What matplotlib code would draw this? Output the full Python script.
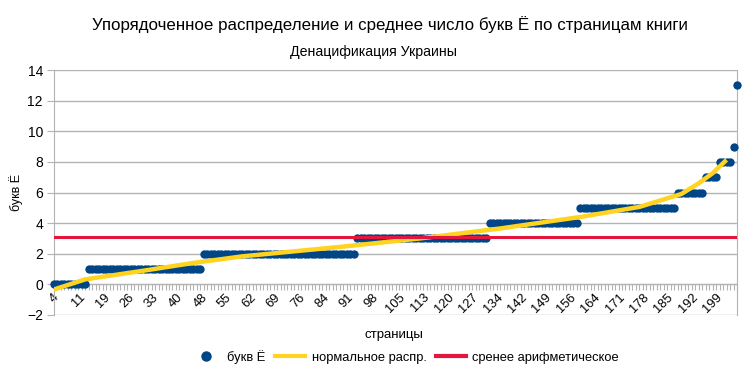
import numpy as np
import matplotlib
matplotlib.use("Agg")
import matplotlib.pyplot as plt
from matplotlib.lines import Line2D

plt.rcParams['font.family'] = ['Liberation Sans', 'DejaVu Sans']

# ---- data ----
levels = [0, 1, 2, 3, 4, 5, 6, 7, 8, 9, 13]
level_counts = [10, 33, 44, 38, 26, 28, 8, 4, 4, 1, 1]
page_labels = [4, 11, 19, 26, 33, 40, 48, 55, 62, 69, 76, 84, 91, 98, 105,
               113, 120, 127, 134, 142, 149, 156, 164, 171, 178, 185, 192, 199]
normal_idx = [0, 9, 25, 40, 54, 84, 105, 128, 151, 168, 180, 185, 189, 193]
normal_val = [-0.33, 0.33, 0.87, 1.4, 1.83, 2.49, 3.0, 3.65, 4.4, 5.06, 5.9, 6.6, 7.26, 8.13]

letters = np.repeat(levels, level_counts)
n = len(letters)
idx = np.arange(n)
mean_val = letters.mean()

blue = '#004586'
yellow = '#ffd320'
red = '#e3173e'
grid = '#b3b3b3'

fig = plt.figure(figsize=(7.53, 3.75), dpi=100)
ax = fig.add_axes([54/753, 1-315/375, (737-54)/753, (315-70)/375])

ax.plot(idx, letters, 'o', color=blue, markersize=6.0, markeredgewidth=0,
        clip_on=False, zorder=3)
ax.plot(normal_idx, normal_val, '-', color=yellow, lw=3.2, zorder=4,
        solid_capstyle='butt')
ax.axhline(mean_val, color=red, lw=2.2, zorder=5)

ax.set_xlim(0, n - 1)
ax.set_ylim(-2, 14)
ax.set_yticks(np.arange(-2, 15, 2))
ax.yaxis.grid(True, color=grid, lw=1)
ax.set_axisbelow(True)

for s in ['left', 'right', 'top', 'bottom']:
    ax.spines[s].set_color(grid)
ax.spines['bottom'].set_position(('data', 0))
ax.spines['top'].set_visible(False)

ax.set_xticks(idx)
lab = [''] * n
for k, p in enumerate(page_labels):
    lab[k * 7] = str(p)
ax.set_xticklabels(lab, rotation=45, ha='center', va='top', fontsize=9.3)
ax.tick_params(axis='x', length=4, color=grid, width=0.8, pad=1)
ax.tick_params(axis='y', length=5, color=grid, labelsize=10, pad=3)

ax.set_ylabel('букв Ё', fontsize=9, labelpad=0)
ax.yaxis.set_label_coords(-(54-23)/683, 0.5)
fig.text(394/753, 1-335/375, 'страницы', ha='center', va='center', fontsize=9.5)

fig.text(390/753, 1-25/375,
         'Упорядоченное распределение и среднее число букв Ё по страницам книги',
         ha='center', va='center', fontsize=12.2)
fig.text(373/753, 1-52/375, 'Денацификация Украины', ha='center', va='center',
         fontsize=10.2)

handles = [Line2D([], [], marker='o', ls='none', color=blue, markersize=6.5),
           Line2D([], [], color=yellow, lw=3),
           Line2D([], [], color=red, lw=3)]
fig.legend(handles, ['букв Ё', 'нормальное распр.', 'сренее арифметическое'],
           loc='center', bbox_to_anchor=(405/753, 1-357/375), ncol=3,
           frameon=False, fontsize=9.3, handlelength=2.3, columnspacing=0.75,
           handletextpad=0.5)

fig.savefig('out.png', dpi=100)
